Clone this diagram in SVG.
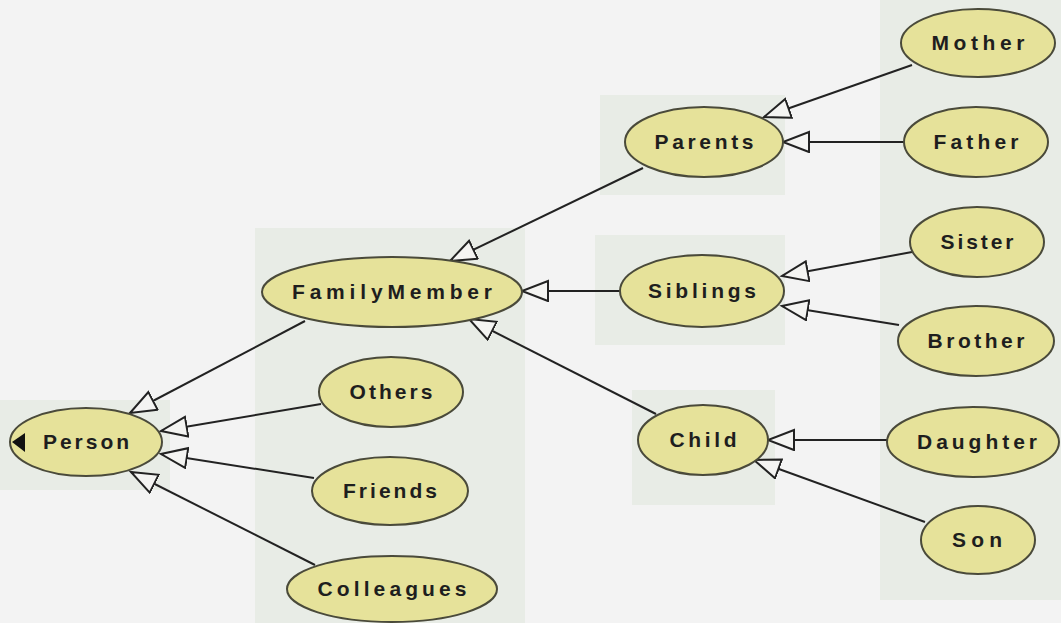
<svg xmlns="http://www.w3.org/2000/svg" width="1061" height="623" viewBox="0 0 1061 623">
<style>
.bg{fill:#f3f3f3}
.pane{fill:#e8ece6}
.node ellipse{fill:#e6e29a;stroke:#4a4a3a;stroke-width:2}
.node text{font-family:"Liberation Sans",Arial,sans-serif;font-weight:bold;font-size:21px;fill:#1e1e1e;text-anchor:middle}
.edge{stroke:#222;stroke-width:2;fill:none;marker-end:url(#tri)}
</style>
<defs>
<marker id="tri" markerUnits="userSpaceOnUse" markerWidth="30" markerHeight="24" refX="27" refY="11" orient="auto">
<path d="M1,1 L27,11 L1,21 Z" fill="#f4f4f2" stroke="#222" stroke-width="2" stroke-linejoin="miter"/>
</marker>
</defs>
<rect class="bg" x="0" y="0" width="1061" height="623"/>
<g id="panes">
<rect class="pane" x="255" y="228" width="270" height="395"/>
<rect class="pane" x="880" y="0" width="181" height="600"/>
<rect class="pane" x="600" y="95" width="185" height="100"/>
<rect class="pane" x="595" y="235" width="190" height="110"/>
<rect class="pane" x="632" y="390" width="143" height="115"/>
<rect class="pane" x="0" y="400" width="170" height="90"/>
</g>
<g id="connectors">
<line class="edge" x1="305" y1="321" x2="130" y2="413"/>
<line class="edge" x1="321" y1="404" x2="161" y2="431"/>
<line class="edge" x1="314" y1="478" x2="161" y2="454"/>
<line class="edge" x1="315" y1="565" x2="131" y2="472"/>
<line class="edge" x1="643" y1="168" x2="450" y2="261"/>
<line class="edge" x1="620" y1="291" x2="522" y2="291"/>
<line class="edge" x1="656" y1="414" x2="469" y2="319"/>
<line class="edge" x1="912" y1="65" x2="764" y2="117"/>
<line class="edge" x1="905" y1="142" x2="783" y2="142"/>
<line class="edge" x1="912" y1="252" x2="782" y2="276"/>
<line class="edge" x1="899" y1="325" x2="782" y2="306"/>
<line class="edge" x1="887" y1="440" x2="768" y2="440"/>
<line class="edge" x1="925" y1="522" x2="754" y2="460"/>
</g>
<g id="Person" class="node">
<ellipse cx="86" cy="442" rx="76" ry="34"/>
<polygon points="12,442 25,433 25,452" fill="#111"/>
<text x="86" y="449" textLength="86" lengthAdjust="spacing">Person</text>
</g>
<g id="FamilyMember" class="node">
<ellipse cx="392" cy="292" rx="130" ry="35"/>
<text x="392" y="299" textLength="200" lengthAdjust="spacing">FamilyMember</text>
</g>
<g id="Others" class="node">
<ellipse cx="391" cy="392" rx="72" ry="35"/>
<text x="391" y="399" textLength="83" lengthAdjust="spacing">Others</text>
</g>
<g id="Friends" class="node">
<ellipse cx="390" cy="491" rx="78" ry="34"/>
<text x="390" y="498" textLength="94" lengthAdjust="spacing">Friends</text>
</g>
<g id="Colleagues" class="node">
<ellipse cx="392" cy="589" rx="105" ry="33"/>
<text x="392" y="596" textLength="149" lengthAdjust="spacing">Colleagues</text>
</g>
<g id="Parents" class="node">
<ellipse cx="704" cy="142" rx="79" ry="35"/>
<text x="704" y="149" textLength="99" lengthAdjust="spacing">Parents</text>
</g>
<g id="Siblings" class="node">
<ellipse cx="702" cy="291" rx="82" ry="36"/>
<text x="702" y="298" textLength="108" lengthAdjust="spacing">Siblings</text>
</g>
<g id="Child" class="node">
<ellipse cx="703" cy="440" rx="65" ry="35"/>
<text x="703" y="447" textLength="67" lengthAdjust="spacing">Child</text>
</g>
<g id="Mother" class="node">
<ellipse cx="978" cy="43" rx="77" ry="34"/>
<text x="978" y="50" textLength="93" lengthAdjust="spacing">Mother</text>
</g>
<g id="Father" class="node">
<ellipse cx="976" cy="142" rx="72" ry="35"/>
<text x="976" y="149" textLength="85" lengthAdjust="spacing">Father</text>
</g>
<g id="Sister" class="node">
<ellipse cx="977" cy="242" rx="67" ry="35"/>
<text x="977" y="249" textLength="73" lengthAdjust="spacing">Sister</text>
</g>
<g id="Brother" class="node">
<ellipse cx="976" cy="341" rx="78" ry="35"/>
<text x="976" y="348" textLength="97" lengthAdjust="spacing">Brother</text>
</g>
<g id="Daughter" class="node">
<ellipse cx="973" cy="442" rx="86" ry="35"/>
<text x="977" y="449" textLength="120" lengthAdjust="spacing">Daughter</text>
</g>
<g id="Son" class="node">
<ellipse cx="978" cy="540" rx="57" ry="34"/>
<text x="977" y="547" textLength="50" lengthAdjust="spacing">Son</text>
</g>
</svg>
